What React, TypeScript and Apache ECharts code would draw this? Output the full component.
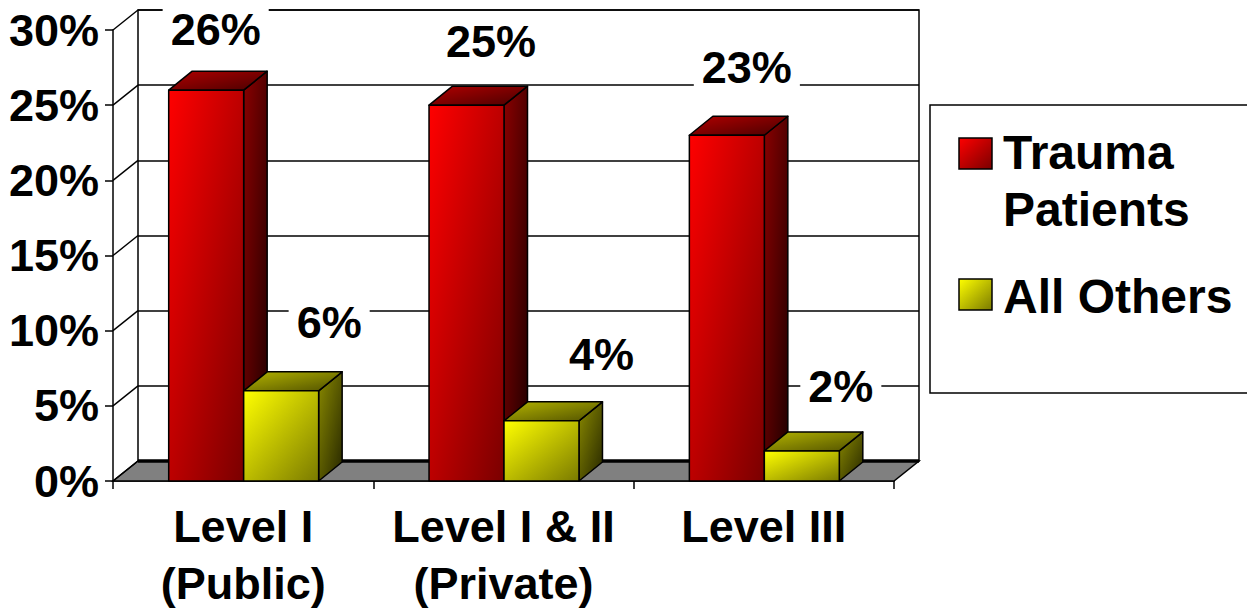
import React, { useEffect, useRef } from 'react';
import * as echarts from 'echarts';

const categories = ['Level I\n(Public)', 'Level I & II\n(Private)', 'Level III'];
const seriesNames = ['Trauma Patients', 'All Others'];
const traumaPatients = [26, 25, 23];
const allOthers = [6, 4, 2];
const yTicks = [0, 5, 10, 15, 20, 25, 30];
const traumaLabelOffsets = [[9.5, -61], [24.5, -64], [20, -67.5]];
const othersLabelOffsets = [[48, -68], [60, -66], [39, -64.5]];

const FONT = '"Liberation Sans", Arial, Helvetica, sans-serif';
const DEPTH_X = 25;
const DEPTH_Y = -20;
const BAR_DX = 23.5;
const BAR_DY = -19;

const lg = (c0: string, c1: string) =>
  new echarts.graphic.LinearGradient(0, 0, 1, 1, [
    { offset: 0, color: c0 },
    { offset: 1, color: c1 },
  ]);

const palettes = [
  { front: ['#ff0000', '#7a0000'], top: ['#b00000', '#4a0000'], side: ['#8a0000', '#1e0000'] },
  { front: ['#ffff00', '#7a7a00'], top: ['#b4b400', '#505000'], side: ['#8a8a00', '#262600'] },
];

function makeBarRenderer(seriesIdx: number, offsets: number[][]) {
  return (params: any, api: any) => {
    const i = api.value(0);
    const v = api.value(1);
    const top = api.coord([i, v]);
    const base = api.coord([i, 0]);
    const band = api.size([1, 0])[0];
    const w = band * 0.288;
    const cx = top[0] + 0.5;
    const x0 = seriesIdx === 0 ? cx - w : cx;
    const x1 = x0 + w;
    const yt = top[1];
    const yb = base[1];
    const p = palettes[seriesIdx];
    const off = offsets[params.dataIndex];
    const st = { stroke: '#000', lineWidth: 1.5, lineJoin: 'round' };
    return {
      type: 'group',
      children: [
        {
          type: 'polygon',
          shape: { points: [[x1, yb], [x1 + BAR_DX, yb + BAR_DY], [x1 + BAR_DX, yt + BAR_DY], [x1, yt]] },
          style: { fill: lg(p.side[0], p.side[1]), ...st },
        },
        {
          type: 'polygon',
          shape: { points: [[x0, yt], [x1, yt], [x1 + BAR_DX, yt + BAR_DY], [x0 + BAR_DX, yt + BAR_DY]] },
          style: { fill: lg(p.top[0], p.top[1]), ...st },
        },
        {
          type: 'rect',
          shape: { x: x0, y: yt, width: w, height: yb - yt },
          style: { fill: lg(p.front[0], p.front[1]), ...st },
        },
        {
          type: 'text',
          x: (x0 + x1) / 2 + off[0],
          y: yt + off[1],
          style: {
            text: v + '%',
            fill: '#000',
            font: `bold 45px ${FONT}`,
            align: 'center',
            verticalAlign: 'middle',
            backgroundColor: '#fff',
            padding: [0, 8],
          },
        },
      ],
    };
  };
}

const renderFrame = (params: any, api: any) => {
  const v = api.value(1);
  const cs = params.coordSys;
  const y = api.coord([0, v])[1];
  const x = cs.x;
  const children: any[] = [
    {
      type: 'line',
      shape: { x1: x, y1: y, x2: x + DEPTH_X, y2: y + DEPTH_Y },
      style: { stroke: '#000', lineWidth: 1.5 },
    },
  ];
  if (v === 0) {
    children.unshift({
      type: 'polygon',
      shape: {
        points: [
          [x, y],
          [x + cs.width, y],
          [x + cs.width + DEPTH_X, y + DEPTH_Y],
          [x + DEPTH_X, y + DEPTH_Y],
        ],
      },
      style: { fill: '#808080', stroke: '#000', lineWidth: 1.5 },
    });
    children.push({
      type: 'line',
      shape: { x1: x + DEPTH_X, y1: y + DEPTH_Y, x2: x + cs.width + DEPTH_X, y2: y + DEPTH_Y },
      style: { stroke: '#000', lineWidth: 3.5 },
    });
  }
  return { type: 'group', children };
};

export default function App() {
  const ref = useRef<HTMLDivElement>(null);
  useEffect(() => {
    if (!ref.current) return;
    const chart = echarts.init(ref.current, undefined, { renderer: 'svg' });
    const labelFont = { fontFamily: FONT, fontWeight: 'bold' as const, fontSize: 45, color: '#000' };
    chart.setOption({
      animation: false,
      backgroundColor: '#fff',
      grid: [
        { left: 113, top: 30, width: 781, height: 451, containLabel: false, outerBoundsMode: 'none' },
        {
          left: 138, top: 10, width: 781, height: 451, containLabel: false, outerBoundsMode: 'none',
          show: true, backgroundColor: '#fff', borderColor: '#000', borderWidth: 1.5,
        },
      ],
      xAxis: [
        {
          type: 'category',
          gridIndex: 0,
          data: categories,
          axisLine: { show: true, lineStyle: { color: '#000', width: 1.5 } },
          axisTick: { show: true, length: 8, lineStyle: { color: '#000', width: 1.5 } },
          axisLabel: { ...labelFont, interval: 0, margin: 17, lineHeight: 57 },
          splitLine: { show: false },
        },
        { type: 'category', gridIndex: 1, data: categories, show: false },
      ],
      yAxis: [
        {
          type: 'value',
          gridIndex: 0,
          min: 0,
          max: 30,
          interval: 5,
          axisLine: { show: true, lineStyle: { color: '#000', width: 1.5 } },
          axisTick: { show: true, length: 8, lineStyle: { color: '#000', width: 1.5 } },
          axisLabel: { ...labelFont, margin: 14, formatter: '{value}%' },
          splitLine: { show: false },
        },
        {
          type: 'value',
          gridIndex: 1,
          min: 0,
          max: 30,
          interval: 5,
          axisLine: { show: false },
          axisTick: { show: false },
          axisLabel: { show: false },
          splitLine: { show: true, lineStyle: { color: '#000', width: 1.5 } },
        },
      ],
      series: [
        {
          type: 'custom',
          name: 'frame',
          xAxisIndex: 0,
          yAxisIndex: 0,
          z: 1,
          silent: true,
          data: yTicks.map((v) => [0, v]),
          renderItem: renderFrame,
        },
        {
          type: 'custom',
          name: seriesNames[0],
          xAxisIndex: 0,
          yAxisIndex: 0,
          z: 3,
          data: traumaPatients.map((v, i) => [i, v]),
          renderItem: makeBarRenderer(0, traumaLabelOffsets),
        },
        {
          type: 'custom',
          name: seriesNames[1],
          xAxisIndex: 0,
          yAxisIndex: 0,
          z: 4,
          data: allOthers.map((v, i) => [i, v]),
          renderItem: makeBarRenderer(1, othersLabelOffsets),
        },
      ],
      graphic: [
        {
          type: 'rect',
          z: 10,
          shape: { x: 930, y: 105, width: 330, height: 288 },
          style: { fill: '#fff', stroke: '#000', lineWidth: 1.5 },
        },
        {
          type: 'rect',
          z: 11,
          shape: { x: 959, y: 138, width: 33, height: 31 },
          style: { fill: lg(palettes[0].front[0], palettes[0].front[1]), stroke: '#000', lineWidth: 1.5 },
        },
        {
          type: 'text',
          z: 11,
          x: 1003,
          y: 180.5,
          style: {
            text: 'Trauma\nPatients',
            fill: '#000',
            font: `bold 48px ${FONT}`,
            lineHeight: 57,
            align: 'left',
            verticalAlign: 'middle',
          },
        },
        {
          type: 'rect',
          z: 11,
          shape: { x: 959, y: 279, width: 33, height: 31 },
          style: { fill: lg(palettes[1].front[0], palettes[1].front[1]), stroke: '#000', lineWidth: 1.5 },
        },
        {
          type: 'text',
          z: 11,
          x: 1003,
          y: 296,
          style: {
            text: seriesNames[1],
            fill: '#000',
            font: `bold 48px ${FONT}`,
            align: 'left',
            verticalAlign: 'middle',
          },
        },
      ],
    });
    return () => chart.dispose();
  }, []);
  return (
    <div
      ref={ref}
      style={{ position: 'fixed', left: 0, top: 0, width: 1247, height: 609, background: '#fff' }}
    />
  );
}
